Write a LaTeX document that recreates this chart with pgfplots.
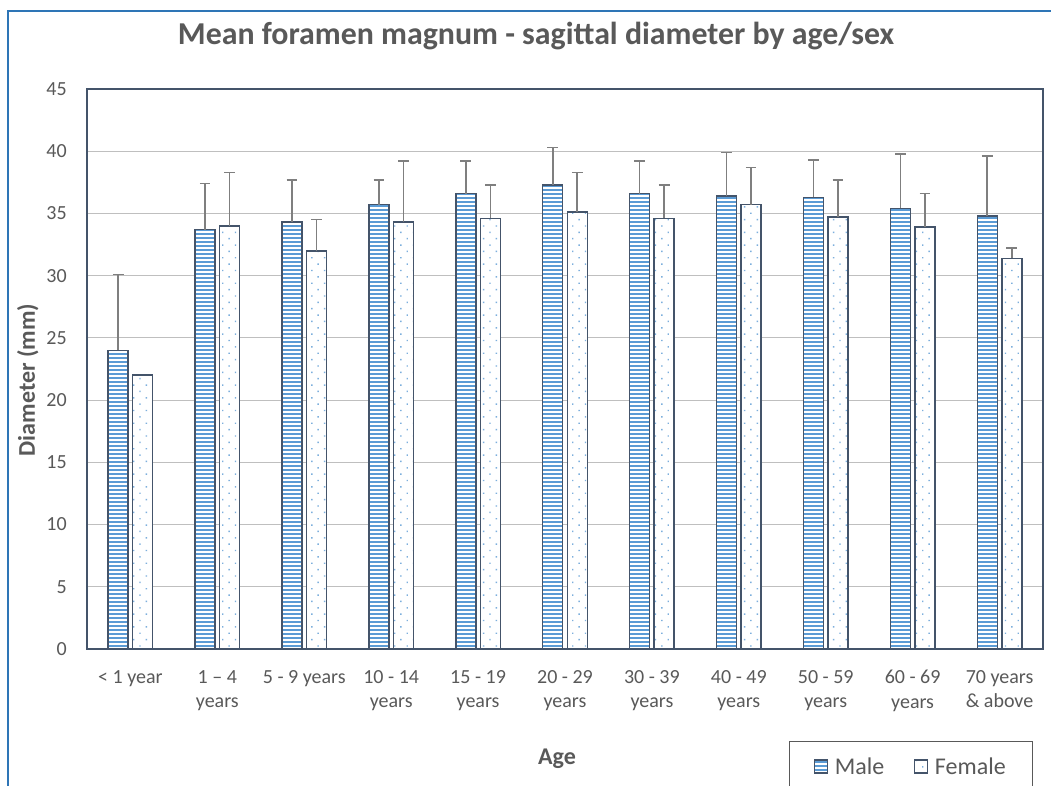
\documentclass[border=0pt]{standalone}
\usepackage{fontspec}
\setmainfont{Carlito}
\usepackage{pgfplots}
\pgfplotsset{compat=1.18}
\usetikzlibrary{patterns.meta}
\definecolor{mblue}{HTML}{5B9BD5}
\definecolor{bord}{HTML}{44546A}
\definecolor{txt}{HTML}{595959}
\definecolor{gridc}{HTML}{BFBFBF}
\definecolor{errc}{HTML}{7F7F7F}
\definecolor{framec}{HTML}{2E75B6}
\begin{document}
\begin{tikzpicture}
\useasboundingbox[fill=white] (-65.25pt,-102.75pt) rectangle (723pt,486.75pt);
\draw[framec, line width=1.6pt] (-59.25pt,-104pt) -- (-59.25pt,478.5pt) -- (724pt,478.5pt);
\begin{axis}[
  at={(0pt,0pt)}, anchor=south west,
  scale only axis, width=717pt, height=420pt,
  xmin=-0.5, xmax=10.5, ymin=0, ymax=45,
  ytick={0,5,...,45}, xtick={0,...,10},
  xticklabels={{< 1 year},{1 – 4\\years},{5 - 9 years},{10 - 14\\years},{15 - 19\\years},{20 - 29\\years},{30 - 39\\years},{40 - 49\\years},{50 - 59\\years},{60 - 69\\years},{70 years\\\& above}},
  ymajorgrids, grid style={gridc, line width=0.8pt},
  axis line style={bord, line width=1.1pt},
  tick style={draw=none},
  /pgf/number format/assume math mode=true,
  tick label style={font=\fontsize{15}{18.5}\selectfont, text=txt},
  yticklabel style={inner sep=0pt, xshift=-15pt},
  xticklabel style={align=center, inner sep=0pt, yshift=-11.5pt},
  title={Mean foramen magnum - sagittal diameter by age/sex},
  title style={at={(axis description cs:0.4697,1.0643)}, anchor=base, font=\fontsize{23.9}{28}\selectfont\bfseries, text=txt},
  xlabel={Age},
  xlabel style={at={(axis description cs:0.4916,-0.2054)}, anchor=base, font=\fontsize{18}{22}\selectfont\bfseries, text=txt},
  ylabel={Diameter (mm)},
  ylabel style={at={(axis description cs:-0.0544,0.4804)}, anchor=base, font=\fontsize{18}{22}\selectfont\bfseries, text=txt},
  ybar, bar width=15pt,
  legend style={at={(axis description cs:0.7343,-0.1643)}, anchor=north west, draw=txt, line width=1pt,
    inner xsep=18pt, inner ysep=10pt, font=\fontsize{18}{21}\selectfont, text=txt,
    legend columns=2, /tikz/every even column/.append style={column sep=20pt}},
  legend image code/.code={\draw[#1, line width=0.8pt] (0pt,-4.5pt) rectangle (9.75pt,5.25pt); \path (13pt,0pt);},
]
\addplot[bar shift=-9.2pt, draw=bord, line width=1.1pt, fill=white,
  postaction={pattern={Lines[angle=0,distance=3pt,line width=1.8pt]}, pattern color=mblue},
  error bars/.cd, y dir=plus, y explicit,
  error bar style={errc, line width=1.2pt},
  error mark=|,
  error mark options={errc, line width=1.2pt, mark size=4pt}]
coordinates {
(0,24.0) +- (0,6.1)
(1,33.7) +- (0,3.7)
(2,34.3) +- (0,3.4)
(3,35.7) +- (0,2.0)
(4,36.6) +- (0,2.6)
(5,37.3) +- (0,3.0)
(6,36.6) +- (0,2.6)
(7,36.4) +- (0,3.5)
(8,36.3) +- (0,3.0)
(9,35.4) +- (0,4.4)
(10,34.8) +- (0,4.8)
};
\addlegendentry{Male}
\addplot[bar shift=9.2pt, draw=bord, line width=1.1pt, fill=white,
  postaction={pattern={Dots[angle=45,distance=6.75pt,radius=0.75pt]}, pattern color=mblue!80}]
coordinates {
(0,22.0) (1,34.0) (2,32.0) (3,34.3) (4,34.6) (5,35.1) (6,34.6) (7,35.7) (8,34.7) (9,33.9) (10,31.4)
};
\addlegendentry{Female}
\addplot[forget plot, bar shift=9.2pt, draw=none, fill=none,
  error bars/.cd, y dir=plus, y explicit,
  error bar style={errc, line width=1.2pt},
  error mark=|,
  error mark options={errc, line width=1.2pt, mark size=4pt}]
coordinates {
(1,34.0) +- (0,4.3)
(2,32.0) +- (0,2.5)
(3,34.3) +- (0,4.9)
(4,34.6) +- (0,2.7)
(5,35.1) +- (0,3.2)
(6,34.6) +- (0,2.7)
(7,35.7) +- (0,3.0)
(8,34.7) +- (0,3.0)
(9,33.9) +- (0,2.7)
(10,31.4) +- (0,0.8)
};
\end{axis}
\end{tikzpicture}
\end{document}
